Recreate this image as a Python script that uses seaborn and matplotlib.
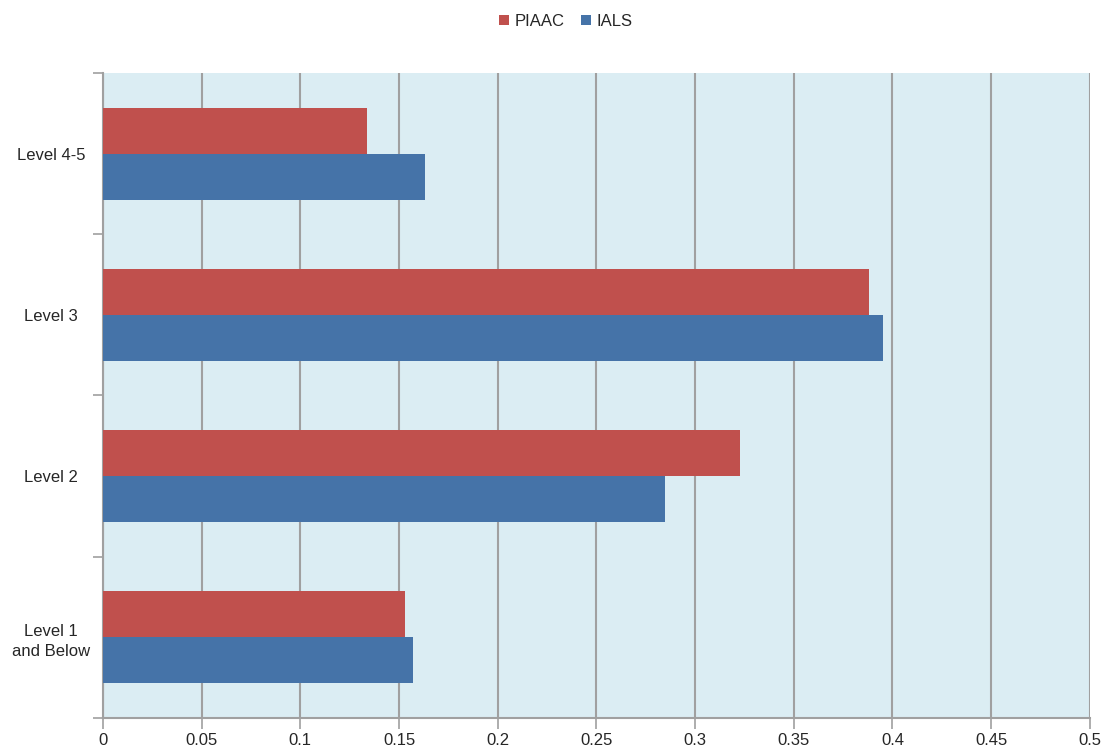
import pandas as pd
import numpy as np
import matplotlib.pyplot as plt
import seaborn as sns
from matplotlib.ticker import FixedLocator

# Dados
niveis = ['Level 4-5', 'Level 3', 'Level 2', 'Level 1\nand Below']
piaac = [0.134, 0.388, 0.323, 0.153]
ials = [0.163, 0.395, 0.285, 0.157]
series = ['PIAAC', 'IALS']
cores = ['#C0504D', '#4573A8']

df = pd.DataFrame({
    'nivel': niveis * 2,
    'valor': piaac + ials,
    'serie': ['PIAAC'] * len(niveis) + ['IALS'] * len(niveis),
})

sns.set_style('white')
plt.rcParams['font.family'] = ['Liberation Sans', 'DejaVu Sans']

fig = plt.figure(figsize=(11.03, 7.52), dpi=100)
ax = fig.add_axes([0.0934, 0.0452, 0.8946, 0.8578])
ax.set_facecolor('#DBEDF3')

sns.barplot(data=df, x='valor', y='nivel', hue='serie', order=niveis,
            hue_order=series, palette=cores, width=0.57, saturation=1,
            edgecolor='none', ax=ax, zorder=3)

ax.set_xlim(0, 0.5)
ax.set_ylim(len(niveis) - 0.5, -0.5)
xt = np.arange(0, 0.51, 0.05)
ax.set_xticks(xt)
ax.set_xticklabels(['0'] + [f'{v:g}' for v in xt[1:]], fontsize=12)
ax.grid(axis='x', color='#A0A0A0', lw=1.5, zorder=1)
ax.set_axisbelow(True)

# ticks de y nos limites das categorias
ax.yaxis.set_minor_locator(FixedLocator(np.arange(-0.5, len(niveis), 1)))
ax.tick_params(axis='y', which='minor', length=7, width=1.2, color='#A0A0A0', direction='out', left=True)
ax.tick_params(axis='x', length=8, width=1.2, color='#A0A0A0', direction='out', bottom=True, pad=3)
ax.tick_params(axis='y', which='major', length=0, labelsize=12, pad=37.4)
for lbl in ax.get_yticklabels():
    lbl.set_horizontalalignment('center')
    lbl.set_multialignment('center')
    lbl.set_linespacing(1.45)

for s in ['top', 'right']:
    ax.spines[s].set_visible(False)
for s in ['left', 'bottom']:
    ax.spines[s].set_color('#A0A0A0')
    ax.spines[s].set_linewidth(1.5)

ax.set_xlabel('')
ax.set_ylabel('')

ax.legend(loc='upper center', bbox_to_anchor=(0.469, 1.115), ncol=2, frameon=False,
          fontsize=12, handlelength=0.6, handleheight=0.6, handletextpad=0.3,
          columnspacing=1.0)

plt.savefig('out.png', dpi=100)
